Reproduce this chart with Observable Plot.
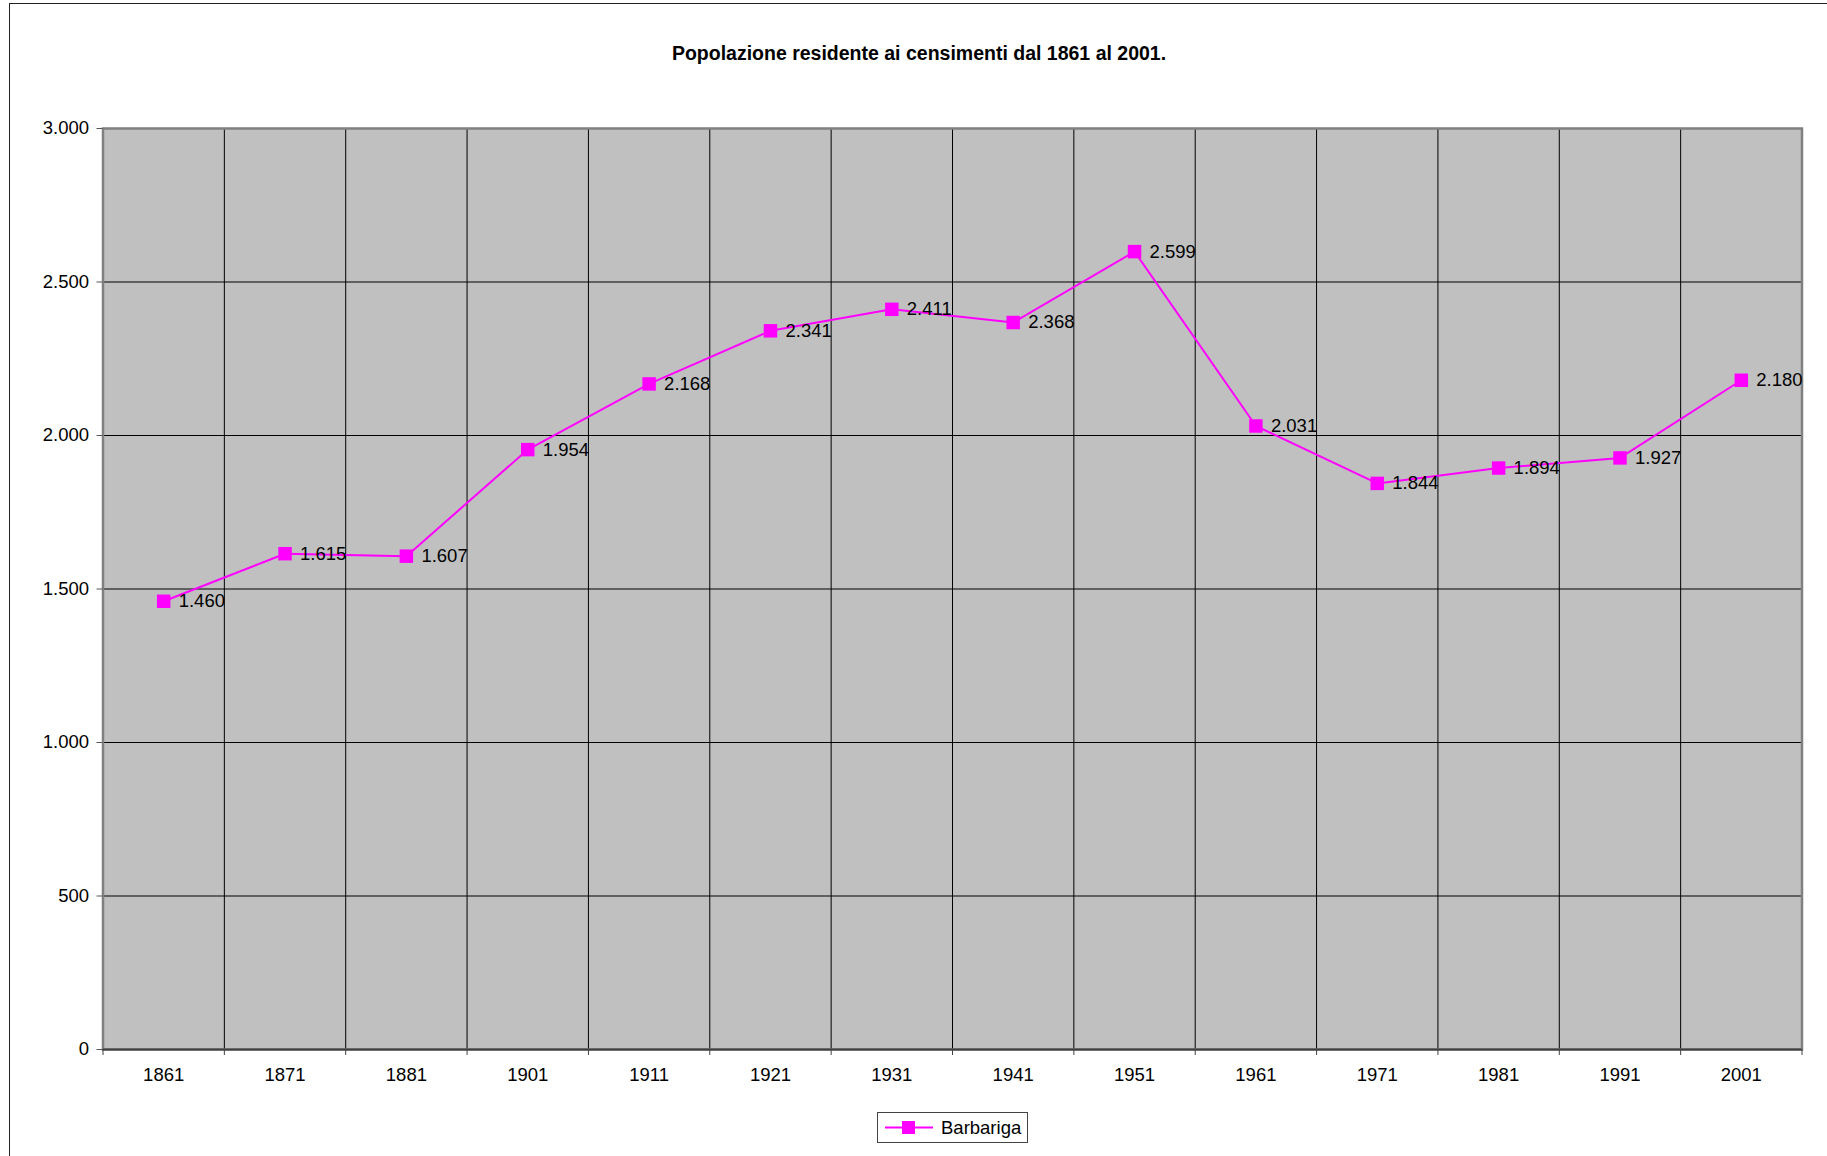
<!DOCTYPE html>
<html>
<head>
<meta charset="utf-8">
<script src="https://cdn.jsdelivr.net/npm/d3@7"></script>
<script src="https://cdn.jsdelivr.net/npm/@observablehq/plot@0.6"></script>
<style>
  html, body { margin: 0; padding: 0; background: #fff; overflow: hidden; }
  #wrap { position: relative; width: 1827px; height: 1156px; overflow: hidden; font-family: "Liberation Sans", Arial, sans-serif; }
  #border { position: absolute; left: 9px; top: 3px; width: 1900px; height: 1300px; border: 1px solid #222; box-sizing: border-box; }
  #title { position: absolute; left: 0; width: 1838px; top: 42px; text-align: center; font-weight: bold; font-size: 19.5px; color: #000; }
  #chart { position: absolute; left: 0; top: 0; }
  #legend { position: absolute; left: 877px; top: 1112px; width: 151px; height: 31px; border: 1px solid #444; box-sizing: border-box; background: #fff; display: flex; align-items: center; font-size: 18.5px; }
</style>
</head>
<body>
<div id="wrap">
  <div id="border"></div>
  <div id="title">Popolazione residente ai censimenti dal 1861 al 2001.</div>
  <div id="chart"></div>
  <div id="legend"></div>
</div>
<script>
const years = ["1861","1871","1881","1901","1911","1921","1931","1941","1951","1961","1971","1981","1991","2001"];
const population = [1460, 1615, 1607, 1954, 2168, 2341, 2411, 2368, 2599, 2031, 1844, 1894, 1927, 2180];
const yTicks = [0, 500, 1000, 1500, 2000, 2500, 3000];
const seriesName = "Barbariga";

const it = d3.formatLocale({decimal: ",", thousands: ".", grouping: [3], currency: ["", "€"]});
const fmt = it.format(",d");

const data = years.map((year, i) => ({i, year, pop: population[i]}));
const boundaries = d3.range(years.length + 1);
const centers = years.map((_, i) => i + 0.5);

const chart = Plot.plot({
  width: 1827,
  height: 1100,
  marginTop: 128,
  marginLeft: 102.5,
  marginRight: 25.5,
  marginBottom: 51,
  style: {fontFamily: "'Liberation Sans', Arial, sans-serif", fontSize: "18.5px", background: "transparent", overflow: "visible", color: "#000"},
  x: {domain: [0, years.length], axis: null, label: null},
  y: {domain: [0, 3000], axis: null, label: null},
  marks: [
    Plot.frame({fill: "#c0c0c0", stroke: "none"}),
    Plot.ruleX(boundaries.slice(1, -1), {stroke: "#000", strokeWidth: 1}),
    Plot.ruleY(yTicks.slice(1, -1), {stroke: "#000", strokeWidth: 1}),
    Plot.frame({stroke: "#808080", strokeWidth: 2.5}),
    Plot.ruleY([0], {stroke: "#404040", strokeWidth: 2}),
    Plot.axisY({ticks: yTicks, label: null, tickSize: 6, tickPadding: 8, tickFormat: fmt, stroke: "#555", fill: "#000", fontSize: 18.5}),
    Plot.axisX({ticks: boundaries, label: null, tickSize: 6, tickFormat: () => "", stroke: "#404040"}),
    Plot.axisX({ticks: centers, label: null, tickSize: 0, tickPadding: 18, tickFormat: d => years[Math.round(d - 0.5)], fill: "#000", fontSize: 18.5}),
    Plot.line(data, {x: d => d.i + 0.5, y: "pop", stroke: "#ff00ff", strokeWidth: 2}),
    Plot.dot(data, {x: d => d.i + 0.5, y: "pop", symbol: "square", r: 7.6, fill: "#ff00ff", stroke: "none"}),
    Plot.text(data, {x: d => d.i + 0.5, y: "pop", text: d => fmt(d.pop), dx: 15, textAnchor: "start", fontSize: 18.5, fill: "#000"})
  ]
});
document.getElementById("chart").appendChild(chart);

// legend
const lg = document.getElementById("legend");
lg.innerHTML = `<svg width="56" height="29" style="margin-left:5px"><line x1="2" y1="14.5" x2="50" y2="14.5" stroke="#ff00ff" stroke-width="2"/><rect x="19" y="8" width="13" height="13" fill="#ff00ff"/></svg><span style="margin-left:2px">${seriesName}</span>`;
</script>
</body>
</html>
